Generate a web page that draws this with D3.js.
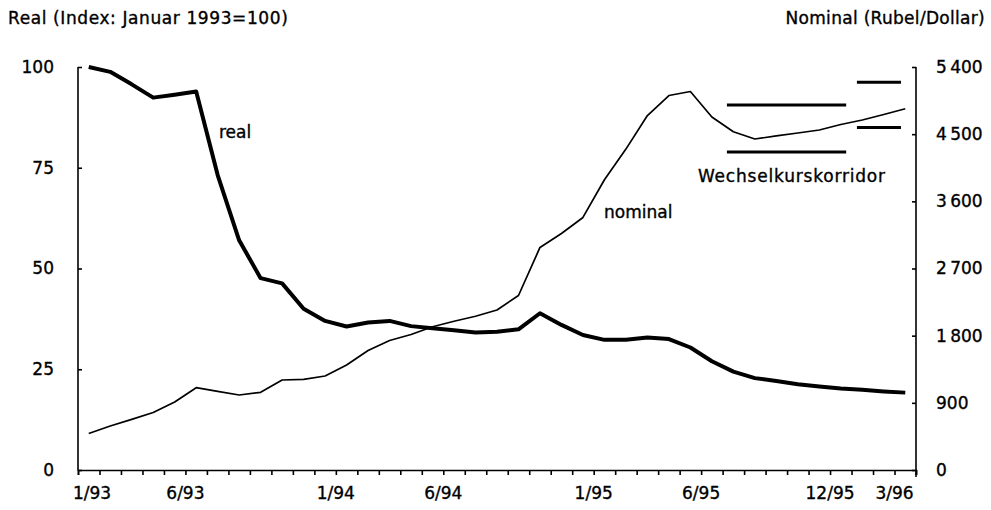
<!DOCTYPE html>
<html>
<head>
<meta charset="utf-8">
<script src="https://cdn.jsdelivr.net/npm/d3@7"></script>
<style>
  body { margin: 0; background: #fff; }
  text { font-family: "DejaVu Sans", sans-serif; fill: #000; stroke: #000; stroke-width: 0.35px; }
</style>
</head>
<body>
<script>
// chart size
const width = 991;
const height = 510;

// months 1/93 .. 3/96
const months = [
  "1/93", "2/93", "3/93", "4/93", "5/93", "6/93", "7/93", "8/93", "9/93", "10/93", "11/93", "12/93",
  "1/94", "2/94", "3/94", "4/94", "5/94", "6/94", "7/94", "8/94", "9/94", "10/94", "11/94", "12/94",
  "1/95", "2/95", "3/95", "4/95", "5/95", "6/95", "7/95", "8/95", "9/95", "10/95", "11/95", "12/95",
  "1/96", "2/96", "3/96",
];

// real exchange rate index (Jan 1993 = 100)
const real = [
  100, 98.8, 95.7, 92.4, 93.1, 93.9, 73.2, 57, 47.6, 46.3, 40, 37,
  35.6, 36.6, 37, 35.7, 35.2, 34.7, 34.1, 34.3, 34.9, 38.9, 36, 33.5,
  32.3, 32.3, 32.9, 32.5, 30.4, 27, 24.4, 22.8, 22.1, 21.3, 20.7, 20.2,
  19.9, 19.5, 19.2,
];

// nominal rate, rubel per dollar
const nominal = [
  489, 590, 678, 770, 911, 1103, 1054, 1005, 1041, 1206, 1215, 1260,
  1407, 1601, 1735, 1816, 1920, 1993, 2060, 2144, 2338, 2982, 3169, 3384,
  3889, 4300, 4750, 5018, 5072, 4730, 4533, 4435, 4476, 4516, 4556, 4630,
  4690, 4764, 4841,
];

// exchange rate corridor (month position from / to, lower / upper bound)
const corridorFrom = [30.2, 36.25];
const corridorTo = [35.75, 38.3];
const corridorLow = [4260, 4590];
const corridorHigh = [4890, 5195];

// axis ticks
const leftTicks = [0, 25, 50, 75, 100];
const rightTicks = [0, 900, 1800, 2700, 3600, 4500, 5400];
const xLabels = ["1/93", "6/93", "1/94", "6/94", "1/95", "6/95", "12/95", "3/96"];

const margin = { left: 78, right: 75, top: 67, bottom: 40 };

const svg = d3
  .select("body")
  .append("svg")
  .attr("width", width)
  .attr("height", height);

const x = d3
  .scaleLinear()
  .domain([0, months.length])
  .range([margin.left, width - margin.right]);

const yL = d3
  .scaleLinear()
  .domain([0, 100])
  .range([height - margin.bottom, margin.top]);

const yR = d3
  .scaleLinear()
  .domain([0, 5400])
  .range([height - margin.bottom, margin.top]);

const fmtR = (d) => (d >= 1000 ? d3.format(",")(d).replace(",", "\u2009") : String(d));

// left axis
const axL = svg
  .append("g")
  .attr("transform", `translate(${margin.left},0)`)
  .call(d3.axisLeft(yL).tickValues(leftTicks).tickSizeInner(-4).tickSizeOuter(0).tickPadding(24));

// right axis
const axR = svg
  .append("g")
  .attr("transform", `translate(${width - margin.right},0)`)
  .call(
    d3
      .axisRight(yR)
      .tickValues(rightTicks)
      .tickSizeInner(-4)
      .tickSizeOuter(0)
      .tickPadding(20)
      .tickFormat(fmtR)
  );

// bottom axis with monthly ticks
const axB = svg
  .append("g")
  .attr("transform", `translate(0,${height - margin.bottom})`)
  .call(d3.axisBottom(x).tickValues(d3.range(months.length + 1)).tickSize(5).tickFormat(""));

[axL, axR, axB].forEach((g) => {
  g.selectAll("path, line").attr("stroke", "#000").attr("stroke-width", 1.6);
  g.selectAll("text").attr("font-size", 17).attr("font-family", "DejaVu Sans, sans-serif");
});
axL.select(".domain").attr("d", `M0,${yL(0) + 0.5}V${yL(100)}`);
axR.select(".domain").attr("d", `M0,${yR(0) + 7}V${yR(5400)}`);

// x labels
svg
  .append("g")
  .selectAll("text")
  .data(xLabels)
  .join("text")
  .attr("x", (d, i) => (i === 0 ? x(months.indexOf(d)) - 5 : x(months.indexOf(d))))
  .attr("y", height - 11)
  .attr("text-anchor", (d, i) => (i === 0 ? "start" : "middle"))
  .attr("font-size", 17)
  .text((d) => d);

// lines
const lineReal = d3
  .line()
  .x((d, i) => x(i + 0.5))
  .y((d) => yL(d));

const lineNom = d3
  .line()
  .x((d, i) => x(i + 0.5))
  .y((d) => yR(d));

svg
  .append("path")
  .datum(nominal)
  .attr("fill", "none")
  .attr("stroke", "#000")
  .attr("stroke-width", 1.7)
  .attr("stroke-linejoin", "round")
  .attr("d", lineNom);

svg
  .append("path")
  .datum(real)
  .attr("fill", "none")
  .attr("stroke", "#000")
  .attr("stroke-width", 4)
  .attr("stroke-linejoin", "round")
  .attr("d", lineReal);

// corridor bars
const corridor = corridorFrom.flatMap((f, i) => [
  { from: f, to: corridorTo[i], v: corridorLow[i] },
  { from: f, to: corridorTo[i], v: corridorHigh[i] },
]);

svg
  .append("g")
  .selectAll("line")
  .data(corridor)
  .join("line")
  .attr("x1", (d) => x(d.from))
  .attr("x2", (d) => x(d.to))
  .attr("y1", (d) => yR(d.v))
  .attr("y2", (d) => yR(d.v))
  .attr("stroke", "#000")
  .attr("stroke-width", 3);

// annotations
const ann = [
  { t: "real", x: 219, y: 138 },
  { t: "nominal", x: 604, y: 218 },
  { t: "Wechselkurskorridor", x: 698, y: 182 },
];
svg
  .append("g")
  .selectAll("text")
  .data(ann)
  .join("text")
  .attr("x", (d) => d.x)
  .attr("y", (d) => d.y)
  .attr("font-size", 17)
  .attr("letter-spacing", (d) => (d.t.length > 10 ? 0.8 : 0))
  .text((d) => d.t);

// axis titles
svg
  .append("text")
  .attr("x", 8)
  .attr("y", 24)
  .attr("font-size", 17)
  .attr("letter-spacing", 0.6)
  .text("Real (Index: Januar 1993=100)");

svg
  .append("text")
  .attr("x", 985)
  .attr("y", 24)
  .attr("font-size", 17)
  .attr("text-anchor", "end")
  .attr("letter-spacing", 0.3)
  .text("Nominal (Rubel/Dollar)");
</script>
</body>
</html>
